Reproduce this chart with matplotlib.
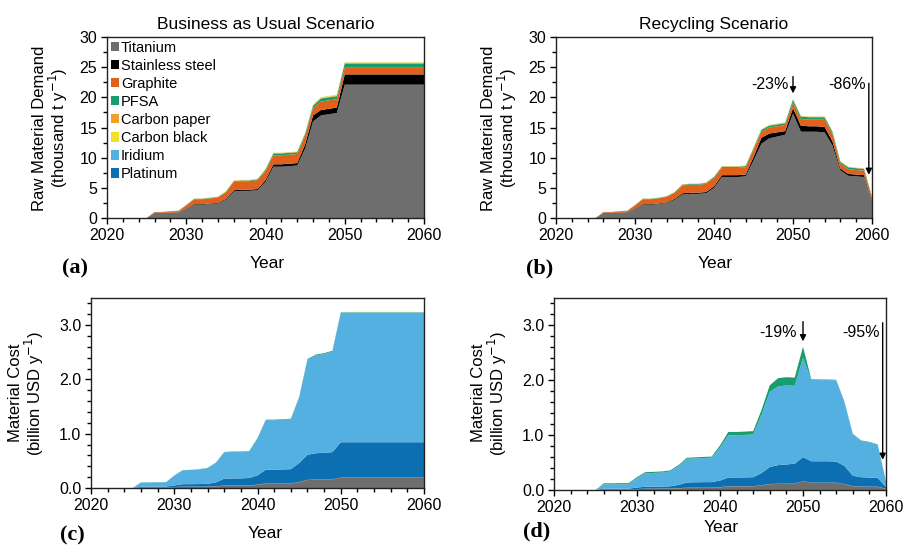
import matplotlib
matplotlib.use("Agg")
import matplotlib.pyplot as plt
from matplotlib.patches import Patch
from matplotlib.ticker import MultipleLocator, FormatStrFormatter

plt.rcParams['font.family'] = ['Liberation Sans', 'DejaVu Sans']

years = list(range(2025, 2061))

materials = ["Titanium", "Stainless steel", "Graphite", "PFSA",
             "Carbon paper", "Carbon black", "Iridium", "Platinum"]
colors = {"Titanium": "#6e6e6e", "Stainless steel": "#000000", "Graphite": "#e0601c",
          "PFSA": "#179e6c", "Carbon paper": "#f0a02a", "Carbon black": "#f0e030",
          "Iridium": "#55b0e2", "Platinum": "#0b6fb2"}

# (a) business as usual, raw material demand (thousand t/y)
ti_a = [0, 0.8, 0.8, 0.85, 0.9, 1.5, 2.2, 2.2, 2.3, 2.4, 3.0, 4.4, 4.5, 4.5, 4.6, 6.0, 8.5, 8.5,
        8.6, 8.7, 11.5, 16.0, 17.0, 17.2, 17.4, 22.1] + [22.1] * 10
ss_a = [0, 0.04, 0.04, 0.05, 0.05, 0.08, 0.1, 0.1, 0.1, 0.1, 0.15, 0.2, 0.2, 0.2, 0.2, 0.3, 0.4, 0.4,
        0.4, 0.4, 0.7, 1.0, 0.9, 0.9, 0.9, 1.7] + [1.7] * 10
gr_a = [0, 0.12, 0.12, 0.2, 0.2, 0.5, 0.8, 0.8, 0.85, 0.9, 1.1, 1.4, 1.4, 1.4, 1.5, 1.5, 1.5, 1.5,
        1.5, 1.5, 1.4, 1.2, 1.4, 1.4, 1.4, 1.1] + [1.1] * 10
pfsa_a = [0, 0.03, 0.03, 0.04, 0.04, 0.06, 0.08, 0.08, 0.08, 0.08, 0.1, 0.12, 0.12, 0.12, 0.12, 0.2,
          0.3, 0.3, 0.3, 0.3, 0.35, 0.4, 0.5, 0.5, 0.5, 0.7] + [0.7] * 10
cp_a = [0, 0.01, 0.01, 0.01, 0.01, 0.02, 0.03, 0.03, 0.03, 0.03, 0.04, 0.05, 0.05, 0.05, 0.05, 0.06,
        0.07, 0.07, 0.07, 0.07, 0.08, 0.09, 0.1, 0.1, 0.1, 0.1] + [0.1] * 10
cb_a = [0, 0.01, 0.01, 0.01, 0.01, 0.01, 0.02, 0.02, 0.02, 0.02, 0.03, 0.04, 0.04, 0.04, 0.04, 0.05,
        0.05, 0.05, 0.05, 0.05, 0.07, 0.1, 0.12, 0.12, 0.12, 0.08] + [0.08] * 10
ir_a = [0, 0.0002, 0.0002, 0.0002, 0.0002, 0.0004, 0.0006, 0.0006, 0.0006, 0.0006, 0.0008, 0.001,
        0.001, 0.001, 0.001, 0.0014, 0.002, 0.002, 0.002, 0.002, 0.0028, 0.0036, 0.0038, 0.0038,
        0.0039, 0.005] + [0.005] * 10
pt_a = [0, 0.0003, 0.0003, 0.0003, 0.0003, 0.0006, 0.0009, 0.0009, 0.0009, 0.0009, 0.0012, 0.0015,
        0.0015, 0.0015, 0.0015, 0.002, 0.003, 0.003, 0.003, 0.003, 0.004, 0.005, 0.0052, 0.0052,
        0.0053, 0.007] + [0.007] * 10

# (b) recycling, raw material demand
ti_b = [0, 0.8, 0.8, 0.85, 0.9, 1.5, 2.2, 2.2, 2.3, 2.5, 3.0, 3.9, 4.0, 4.0, 4.1, 5.0, 6.8, 6.8,
        6.8, 6.9, 9.5, 12.3, 13.2, 13.5, 13.8, 17.3, 14.3, 14.3, 14.3, 14.2, 12.0, 7.9, 7.0, 6.9,
        6.8, 2.5]
ss_b = [0, 0.04, 0.04, 0.05, 0.05, 0.08, 0.1, 0.1, 0.1, 0.1, 0.15, 0.2, 0.2, 0.2, 0.2, 0.25, 0.3,
        0.3, 0.3, 0.3, 0.6, 1.0, 0.8, 0.7, 0.6, 0.9, 1.0, 0.9, 0.9, 0.9, 0.7, 0.3, 0.3, 0.3, 0.3, 0.2]
gr_b = [0, 0.12, 0.12, 0.2, 0.2, 0.5, 0.8, 0.8, 0.85, 0.9, 1.0, 1.3, 1.3, 1.3, 1.4, 1.4, 1.2, 1.2,
        1.2, 1.2, 1.2, 1.0, 1.0, 1.0, 1.0, 0.9, 1.1, 1.1, 1.1, 1.2, 1.2, 0.8, 0.8, 0.75, 0.75, 0.7]
pfsa_b = [0, 0.03, 0.03, 0.04, 0.04, 0.06, 0.08, 0.08, 0.08, 0.08, 0.1, 0.12, 0.12, 0.12, 0.12,
          0.15, 0.2, 0.2, 0.2, 0.2, 0.25, 0.3, 0.3, 0.3, 0.3, 0.5, 0.4, 0.4, 0.4, 0.4, 0.35, 0.3,
          0.3, 0.3, 0.3, 0.1]
cp_b = [0, 0.01, 0.01, 0.01, 0.01, 0.02, 0.03, 0.03, 0.03, 0.03, 0.04, 0.05, 0.05, 0.05, 0.05,
        0.05, 0.06, 0.06, 0.06, 0.06, 0.07, 0.08, 0.08, 0.08, 0.08, 0.1, 0.08, 0.08, 0.08, 0.08,
        0.07, 0.06, 0.06, 0.06, 0.06, 0.03]
cb_b = [0, 0.01, 0.01, 0.01, 0.01, 0.01, 0.02, 0.02, 0.02, 0.02, 0.02, 0.03, 0.03, 0.03, 0.03,
        0.03, 0.04, 0.04, 0.04, 0.04, 0.05, 0.06, 0.06, 0.06, 0.06, 0.06, 0.05, 0.05, 0.05, 0.05,
        0.04, 0.04, 0.04, 0.04, 0.04, 0.02]
ir_b = [0, 0.0002, 0.0002, 0.0002, 0.0002, 0.0004, 0.0006, 0.0006, 0.0006, 0.0006, 0.0008, 0.001,
        0.001, 0.001, 0.001, 0.0012, 0.0016, 0.0016, 0.0016, 0.0016, 0.002, 0.0026, 0.0027, 0.0027,
        0.0027, 0.0034, 0.0028, 0.0028, 0.0028, 0.0028, 0.0022, 0.0014, 0.0013, 0.0012, 0.0012,
        0.0002]
pt_b = [0, 0.0003, 0.0003, 0.0003, 0.0003, 0.0006, 0.0009, 0.0009, 0.0009, 0.0009, 0.0012, 0.0015,
        0.0015, 0.0015, 0.0015, 0.0017, 0.0022, 0.0022, 0.0022, 0.0022, 0.003, 0.0037, 0.0038,
        0.0038, 0.0039, 0.0047, 0.004, 0.004, 0.004, 0.004, 0.0033, 0.002, 0.0018, 0.0017, 0.0017,
        0.0004]

# (c) business as usual, material cost (billion USD/y)
ti_c = [0, 0.007, 0.007, 0.008, 0.008, 0.014, 0.02, 0.02, 0.021, 0.022, 0.028, 0.04, 0.041, 0.041,
        0.042, 0.055, 0.075, 0.075, 0.076, 0.077, 0.1, 0.14, 0.145, 0.147, 0.15, 0.18] + [0.18] * 10
ss_c = [0, 0.001, 0.001, 0.001, 0.001, 0.001, 0.002, 0.002, 0.002, 0.002, 0.002, 0.003, 0.003,
        0.003, 0.003, 0.003, 0.004, 0.004, 0.004, 0.004, 0.005, 0.006, 0.006, 0.006, 0.006, 0.008] + [0.008] * 10
gr_c = [0, 0.001, 0.001, 0.001, 0.001, 0.002, 0.003, 0.003, 0.003, 0.003, 0.003, 0.004, 0.004,
        0.004, 0.004, 0.004, 0.005, 0.005, 0.005, 0.005, 0.005, 0.005, 0.005, 0.005, 0.005, 0.005] + [0.005] * 10
pt_c = [0, 0.013, 0.013, 0.015, 0.016, 0.03, 0.045, 0.046, 0.047, 0.05, 0.07, 0.125, 0.128, 0.13,
        0.135, 0.17, 0.255, 0.255, 0.258, 0.26, 0.35, 0.46, 0.485, 0.49, 0.5, 0.65] + [0.65] * 10
ir_c = [0, 0.08, 0.08, 0.08, 0.08, 0.18, 0.255, 0.26, 0.27, 0.29, 0.36, 0.485, 0.49, 0.49, 0.49,
        0.68, 0.91, 0.91, 0.915, 0.92, 1.2, 1.75, 1.8, 1.82, 1.85, 2.37] + [2.37] * 10
pfsa_c = [0, 0.002, 0.002, 0.002, 0.002, 0.003, 0.004, 0.004, 0.004, 0.004, 0.005, 0.006, 0.006,
          0.006, 0.006, 0.008, 0.01, 0.01, 0.01, 0.01, 0.012, 0.014, 0.016, 0.016, 0.016, 0.02] + [0.02] * 10

# (d) recycling, material cost
ti_d = [0, 0.007, 0.007, 0.008, 0.008, 0.014, 0.02, 0.02, 0.021, 0.022, 0.028, 0.035, 0.036, 0.036,
        0.037, 0.045, 0.06, 0.06, 0.06, 0.06, 0.08, 0.1, 0.105, 0.107, 0.11, 0.15, 0.125, 0.125,
        0.125, 0.125, 0.1, 0.065, 0.058, 0.057, 0.056, 0.02]
ss_d = [0, 0.001, 0.001, 0.001, 0.001, 0.001, 0.002, 0.002, 0.002, 0.002, 0.002, 0.003, 0.003,
        0.003, 0.003, 0.003, 0.004, 0.004, 0.004, 0.004, 0.004, 0.005, 0.005, 0.005, 0.005, 0.006,
        0.005, 0.005, 0.005, 0.005, 0.004, 0.002, 0.002, 0.002, 0.002, 0.001]
gr_d = [0, 0.001, 0.001, 0.001, 0.001, 0.002, 0.003, 0.003, 0.003, 0.003, 0.003, 0.004, 0.004,
        0.004, 0.004, 0.004, 0.004, 0.004, 0.004, 0.004, 0.004, 0.004, 0.004, 0.004, 0.004, 0.004,
        0.004, 0.004, 0.004, 0.004, 0.004, 0.003, 0.003, 0.003, 0.003, 0.002]
pt_d = [0, 0.013, 0.013, 0.014, 0.015, 0.028, 0.035, 0.036, 0.037, 0.04, 0.06, 0.095, 0.098, 0.1,
        0.1, 0.12, 0.16, 0.16, 0.162, 0.165, 0.22, 0.31, 0.34, 0.35, 0.36, 0.44, 0.39, 0.39, 0.39,
        0.385, 0.33, 0.19, 0.17, 0.165, 0.16, 0.03]
ir_d = [0, 0.08, 0.08, 0.08, 0.08, 0.17, 0.245, 0.25, 0.255, 0.27, 0.34, 0.43, 0.435, 0.44, 0.445,
        0.6, 0.77, 0.77, 0.775, 0.78, 1.06, 1.37, 1.435, 1.44, 1.42, 1.81, 1.485, 1.48, 1.48, 1.48,
        1.16, 0.755, 0.66, 0.64, 0.6, 0.105]
pfsa_d = [0, 0.02, 0.02, 0.02, 0.02, 0.02, 0.02, 0.02, 0.02, 0.02, 0.02, 0.02, 0.02, 0.02, 0.02,
          0.04, 0.06, 0.06, 0.06, 0.06, 0.09, 0.12, 0.15, 0.15, 0.15, 0.2, 0.01, 0.01, 0.01, 0.01,
          0.01, 0.01, 0.01, 0.01, 0.01, 0.005]

W, H = 904, 548
fig = plt.figure(figsize=(W / 100, H / 100), dpi=100)


def px_axes(left, top, right, bottom):
    return fig.add_axes([left / W, 1 - bottom / H, (right - left) / W, (bottom - top) / H])


def style(ax, ymax, ymaj, ymin, fmt):
    ax.set_xlim(2020, 2060)
    ax.set_ylim(0, ymax)
    ax.xaxis.set_major_locator(MultipleLocator(10))
    ax.xaxis.set_minor_locator(MultipleLocator(2))
    ax.yaxis.set_major_locator(MultipleLocator(ymaj))
    ax.yaxis.set_minor_locator(MultipleLocator(ymin))
    ax.yaxis.set_major_formatter(FormatStrFormatter(fmt))
    ax.tick_params(which='major', direction='out', length=4, width=1, labelsize=11.5, pad=3)
    ax.tick_params(which='minor', direction='out', length=3, width=1)
    for s in ax.spines.values():
        s.set_linewidth(1)
        s.set_color('#222222')


def fig_text(x, y, s, **kw):
    fig.text(x / W, 1 - y / H, s, ha='center', va='center', **kw)


# top row: raw material demand
ax_a = px_axes(107, 37, 424, 218)
ax_a.stackplot(years, ti_a, ss_a, gr_a, pfsa_a, cp_a, cb_a, ir_a, pt_a,
               colors=[colors[m] for m in materials], linewidth=0)
style(ax_a, 30, 5, 2.5, '%d')
ax_a.set_title("Business as Usual Scenario", fontsize=12.5, pad=6)
handles = [Patch(facecolor=colors[m], edgecolor='none', label=m) for m in materials]
ax_a.legend(handles=handles, loc='upper left', frameon=False, fontsize=10.5,
            handlelength=0.55, handleheight=0.6, handletextpad=0.15, labelspacing=0.28,
            borderpad=0.15, borderaxespad=0.1)

ax_b = px_axes(556, 37, 872, 218)
ax_b.stackplot(years, ti_b, ss_b, gr_b, pfsa_b, cp_b, cb_b, ir_b, pt_b,
               colors=[colors[m] for m in materials], linewidth=0)
style(ax_b, 30, 5, 2.5, '%d')
ax_b.set_title("Recycling Scenario", fontsize=12.5, pad=6)
ax_b.annotate('', xy=(2050, 20.2), xytext=(2050, 23.9),
              arrowprops=dict(arrowstyle='-|>', color='k', lw=1, mutation_scale=9))
ax_b.text(2049.5, 22.2, "-23%", ha='right', va='center', fontsize=11.5)
ax_b.annotate('', xy=(2059.6, 6.7), xytext=(2059.6, 22.8),
              arrowprops=dict(arrowstyle='-|>', color='k', lw=1, mutation_scale=9))
ax_b.text(2059.2, 22.2, "-86%", ha='right', va='center', fontsize=11.5)

# bottom row: material cost
cost_order = ["Titanium", "Stainless steel", "Graphite", "Platinum", "Iridium", "PFSA"]
ax_c = px_axes(91, 298, 424, 488)
ax_c.stackplot(years, ti_c, ss_c, gr_c, pt_c, ir_c, pfsa_c,
               colors=[colors[m] for m in cost_order], linewidth=0)
style(ax_c, 3.5, 1.0, 0.2, '%.1f')

ax_d = px_axes(554, 298, 886, 490)
ax_d.stackplot(years, ti_d, ss_d, gr_d, pt_d, ir_d, pfsa_d,
               colors=[colors[m] for m in cost_order], linewidth=0)
style(ax_d, 3.5, 1.0, 0.2, '%.1f')
ax_d.annotate('', xy=(2050, 2.66), xytext=(2050, 3.12),
              arrowprops=dict(arrowstyle='-|>', color='k', lw=1, mutation_scale=9))
ax_d.text(2049.3, 2.88, "-19%", ha='right', va='center', fontsize=11.5)
ax_d.annotate('', xy=(2059.6, 0.5), xytext=(2059.6, 3.1),
              arrowprops=dict(arrowstyle='-|>', color='k', lw=1, mutation_scale=9))
ax_d.text(2059.2, 2.88, "-95%", ha='right', va='center', fontsize=11.5)

# axis labels and panel letters
fig_text(51, 128, "Raw Material Demand\n(thousand t y$^{-1}$)", rotation=90, fontsize=12,
         linespacing=1.0)
fig_text(500, 128, "Raw Material Demand\n(thousand t y$^{-1}$)", rotation=90, fontsize=12,
         linespacing=1.0)
fig_text(27, 393, "Material Cost\n(billion USD y$^{-1}$)", rotation=90, fontsize=12,
         linespacing=1.0)
fig_text(490, 393, "Material Cost\n(billion USD y$^{-1}$)", rotation=90, fontsize=12,
         linespacing=1.0)
fig_text(267, 263, "Year", fontsize=12.5)
fig_text(715, 263, "Year", fontsize=12.5)
fig_text(265, 533, "Year", fontsize=12.5)
fig_text(721, 527, "Year", fontsize=12.5)
for (x, y, s) in [(75, 268, "(a)"), (540, 268, "(b)"), (72, 535, "(c)"), (537, 531, "(d)")]:
    fig_text(x, y, s, fontsize=16, fontweight='bold', family='Liberation Serif')

fig.savefig("out.png", dpi=100)
